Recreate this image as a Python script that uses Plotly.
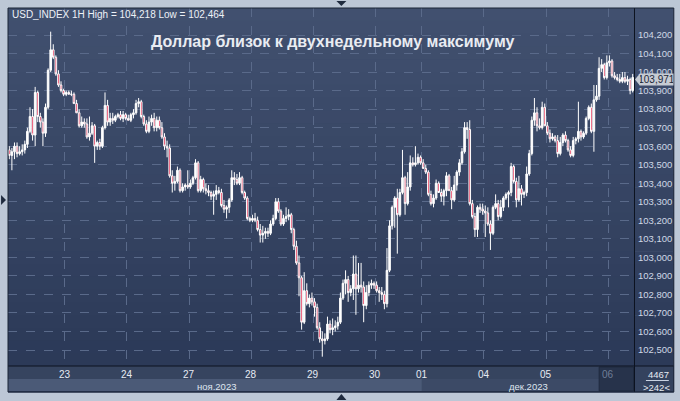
import plotly.graph_objects as go

# Hourly USD index candles, 22 Nov - 6 Dec 2023 (242 bars)
OPEN = [
    103.58, 103.55, 103.57, 103.60, 103.56, 103.57, 103.58, 103.61, 103.68, 103.76,
    103.66, 103.89, 103.76, 103.73, 103.67, 103.81, 104.01, 104.12, 104.08, 103.99,
    103.93, 103.90, 103.88, 103.89, 103.88, 103.88, 103.83, 103.78, 103.71, 103.73,
    103.72, 103.65, 103.67, 103.71, 103.60, 103.62, 103.60, 103.70, 103.82, 103.73,
    103.75, 103.74, 103.76, 103.77, 103.75, 103.77, 103.75, 103.74, 103.77, 103.78,
    103.83, 103.84, 103.76, 103.72, 103.68, 103.73, 103.75, 103.70, 103.74, 103.70,
    103.65, 103.60, 103.59, 103.44, 103.40, 103.41, 103.47, 103.36, 103.38, 103.39,
    103.38, 103.40, 103.43, 103.51, 103.36, 103.42, 103.37, 103.36, 103.35, 103.33,
    103.34, 103.36, 103.35, 103.28, 103.26, 103.27, 103.31, 103.43, 103.42, 103.40,
    103.43, 103.35, 103.32, 103.21, 103.20, 103.21, 103.20, 103.15, 103.12, 103.13,
    103.14, 103.13, 103.18, 103.21, 103.30, 103.25, 103.18, 103.21, 103.22, 103.23,
    103.15, 103.06, 102.97, 102.89, 102.65, 102.82, 102.75, 102.78, 102.76, 102.73,
    102.62, 102.56, 102.55, 102.56, 102.64, 102.61, 102.62, 102.63, 102.65, 102.78,
    102.86, 102.88, 102.81, 102.83, 102.91, 102.83, 102.85, 102.84, 102.74, 102.81,
    102.85, 102.86, 102.85, 102.82, 102.81, 102.80, 102.75, 102.93, 103.17, 103.27,
    103.32, 103.23, 103.35, 103.43, 103.29, 103.38, 103.51, 103.50, 103.51, 103.54,
    103.51, 103.48, 103.46, 103.34, 103.29, 103.32, 103.40, 103.35, 103.33, 103.36,
    103.44, 103.36, 103.31, 103.39, 103.46, 103.51, 103.57, 103.70, 103.69, 103.29,
    103.22, 103.15, 103.27, 103.26, 103.25, 103.24, 103.18, 103.13, 103.27, 103.29,
    103.22, 103.27, 103.32, 103.34, 103.35, 103.49, 103.41, 103.31, 103.37, 103.34,
    103.35, 103.45, 103.56, 103.74, 103.78, 103.71, 103.70, 103.81, 103.71, 103.67,
    103.64, 103.65, 103.63, 103.56, 103.62, 103.66, 103.63, 103.58, 103.55, 103.63,
    103.64, 103.68, 103.65, 103.67, 103.75, 103.81, 103.68, 103.85, 103.87, 104.02,
    104.04, 103.97, 104.05, 104.06, 103.98, 103.97, 103.96, 103.95, 103.97, 103.95,
    103.96, 103.90,
]
HIGH = [
    103.60, 103.59, 103.62, 103.62, 103.60, 103.61, 103.63, 103.70, 103.81, 103.80,
    103.92, 103.90, 103.78, 103.75, 103.83, 104.02, 104.218, 104.15, 104.09, 104.01,
    103.95, 103.91, 103.90, 103.90, 103.90, 103.89, 103.85, 103.80, 103.76, 103.75,
    103.75, 103.76, 103.73, 103.72, 103.63, 103.64, 103.71, 103.89, 103.85, 103.78,
    103.78, 103.77, 103.78, 103.79, 103.79, 103.78, 103.77, 103.78, 103.80, 103.85,
    103.86, 103.85, 103.77, 103.74, 103.76, 103.77, 103.78, 103.76, 103.76, 103.73,
    103.67, 103.63, 103.61, 103.47, 103.44, 103.49, 103.48, 103.40, 103.40, 103.47,
    103.42, 103.44, 103.53, 103.52, 103.44, 103.43, 103.40, 103.39, 103.36, 103.36,
    103.39, 103.38, 103.37, 103.31, 103.28, 103.32, 103.47, 103.46, 103.45, 103.46,
    103.44, 103.36, 103.33, 103.22, 103.23, 103.24, 103.22, 103.18, 103.17, 103.16,
    103.16, 103.20, 103.23, 103.32, 103.32, 103.26, 103.23, 103.27, 103.26, 103.24,
    103.16, 103.09, 103.01, 102.90, 102.92, 102.86, 102.80, 102.81, 102.78, 102.75,
    102.65, 102.60, 102.59, 102.68, 102.66, 102.67, 102.66, 102.68, 102.81, 102.88,
    102.93, 102.90, 102.85, 103.01, 103.01, 102.97, 102.97, 102.87, 102.85, 102.87,
    102.88, 102.87, 102.87, 102.84, 102.84, 102.82, 103.05, 103.20, 103.28, 103.33,
    103.37, 103.37, 103.58, 103.44, 103.46, 103.55, 103.54, 103.60, 103.56, 103.55,
    103.53, 103.50, 103.47, 103.36, 103.34, 103.42, 103.41, 103.37, 103.37, 103.46,
    103.45, 103.38, 103.44, 103.47, 103.53, 103.59, 103.73, 103.73, 103.74, 103.31,
    103.24, 103.28, 103.29, 103.29, 103.28, 103.27, 103.20, 103.28, 103.34, 103.31,
    103.31, 103.33, 103.35, 103.36, 103.51, 103.50, 103.43, 103.44, 103.39, 103.36,
    103.49, 103.58, 103.76, 103.86, 103.81, 103.75, 103.84, 103.83, 103.73, 103.69,
    103.67, 103.66, 103.66, 103.65, 103.67, 103.68, 103.64, 103.60, 103.65, 103.65,
    103.84, 103.69, 103.68, 103.76, 103.82, 103.83, 103.93, 103.93, 104.08, 104.07,
    104.05, 104.09, 104.09, 104.07, 104.00, 103.99, 103.99, 104.00, 104.00, 103.98,
    103.97, 103.99,
]
LOW = [
    103.53, 103.47, 103.53, 103.54, 103.55, 103.55, 103.56, 103.59, 103.67, 103.63,
    103.60, 103.73, 103.70, 103.60, 103.65, 103.80, 104.00, 104.07, 103.98, 103.92,
    103.89, 103.87, 103.87, 103.88, 103.87, 103.83, 103.78, 103.70, 103.70, 103.70,
    103.64, 103.63, 103.66, 103.51, 103.58, 103.58, 103.59, 103.69, 103.71, 103.71,
    103.72, 103.73, 103.75, 103.74, 103.73, 103.74, 103.74, 103.73, 103.75, 103.77,
    103.81, 103.75, 103.71, 103.67, 103.67, 103.71, 103.68, 103.68, 103.69, 103.64,
    103.58, 103.54, 103.43, 103.35, 103.36, 103.40, 103.35, 103.35, 103.36, 103.37,
    103.37, 103.39, 103.42, 103.35, 103.35, 103.35, 103.34, 103.33, 103.31, 103.23,
    103.31, 103.34, 103.27, 103.24, 103.21, 103.24, 103.30, 103.39, 103.39, 103.39,
    103.34, 103.31, 103.20, 103.19, 103.19, 103.19, 103.14, 103.08, 103.08, 103.10,
    103.11, 103.12, 103.17, 103.20, 103.24, 103.17, 103.17, 103.19, 103.20, 103.13,
    103.04, 102.96, 102.79, 102.61, 102.64, 102.74, 102.73, 102.74, 102.68, 102.61,
    102.54, 102.464, 102.53, 102.55, 102.59, 102.58, 102.60, 102.61, 102.64, 102.77,
    102.80, 102.76, 102.79, 102.77, 102.69, 102.81, 102.81, 102.65, 102.72, 102.79,
    102.83, 102.83, 102.81, 102.76, 102.77, 102.72, 102.73, 102.92, 103.15, 103.16,
    103.02, 103.22, 103.34, 103.23, 103.28, 103.36, 103.49, 103.49, 103.50, 103.50,
    103.48, 103.45, 103.33, 103.28, 103.27, 103.31, 103.35, 103.30, 103.28, 103.33,
    103.36, 103.26, 103.30, 103.36, 103.44, 103.50, 103.56, 103.64, 103.28, 103.21,
    103.11, 103.11, 103.24, 103.23, 103.11, 103.17, 103.04, 103.12, 103.26, 103.20,
    103.21, 103.25, 103.31, 103.27, 103.33, 103.40, 103.27, 103.30, 103.28, 103.32,
    103.33, 103.44, 103.55, 103.71, 103.68, 103.69, 103.69, 103.71, 103.66, 103.62,
    103.63, 103.62, 103.54, 103.55, 103.60, 103.62, 103.57, 103.54, 103.54, 103.61,
    103.62, 103.63, 103.64, 103.66, 103.74, 103.67, 103.57, 103.84, 103.85, 104.00,
    103.96, 103.96, 104.03, 103.97, 103.96, 103.95, 103.94, 103.94, 103.94, 103.93,
    103.88, 103.89,
]
CLOSE = [
    103.55, 103.57, 103.60, 103.56, 103.57, 103.58, 103.61, 103.68, 103.76, 103.66,
    103.89, 103.76, 103.73, 103.67, 103.81, 104.01, 104.12, 104.08, 103.99, 103.93,
    103.90, 103.88, 103.89, 103.88, 103.88, 103.83, 103.78, 103.71, 103.73, 103.72,
    103.65, 103.67, 103.71, 103.60, 103.62, 103.60, 103.70, 103.82, 103.73, 103.75,
    103.74, 103.76, 103.77, 103.75, 103.77, 103.75, 103.74, 103.77, 103.78, 103.83,
    103.84, 103.76, 103.72, 103.68, 103.73, 103.75, 103.70, 103.74, 103.70, 103.65,
    103.60, 103.59, 103.44, 103.40, 103.41, 103.47, 103.36, 103.38, 103.39, 103.38,
    103.40, 103.43, 103.51, 103.36, 103.42, 103.37, 103.36, 103.35, 103.33, 103.34,
    103.36, 103.35, 103.28, 103.26, 103.27, 103.31, 103.43, 103.42, 103.40, 103.43,
    103.35, 103.32, 103.21, 103.20, 103.21, 103.20, 103.15, 103.12, 103.13, 103.14,
    103.13, 103.18, 103.21, 103.30, 103.25, 103.18, 103.21, 103.22, 103.23, 103.15,
    103.06, 102.97, 102.89, 102.65, 102.82, 102.75, 102.78, 102.76, 102.73, 102.62,
    102.56, 102.55, 102.56, 102.64, 102.61, 102.62, 102.63, 102.65, 102.78, 102.86,
    102.88, 102.81, 102.83, 102.91, 102.83, 102.85, 102.84, 102.74, 102.81, 102.85,
    102.86, 102.85, 102.82, 102.81, 102.80, 102.75, 102.93, 103.17, 103.27, 103.32,
    103.23, 103.35, 103.43, 103.29, 103.38, 103.51, 103.50, 103.51, 103.54, 103.51,
    103.48, 103.46, 103.34, 103.29, 103.32, 103.40, 103.35, 103.33, 103.36, 103.44,
    103.36, 103.31, 103.39, 103.46, 103.51, 103.57, 103.70, 103.69, 103.29, 103.22,
    103.15, 103.27, 103.26, 103.25, 103.24, 103.18, 103.13, 103.27, 103.29, 103.22,
    103.27, 103.32, 103.34, 103.35, 103.49, 103.41, 103.31, 103.37, 103.34, 103.35,
    103.45, 103.56, 103.74, 103.78, 103.71, 103.70, 103.81, 103.71, 103.67, 103.64,
    103.65, 103.63, 103.56, 103.62, 103.66, 103.63, 103.58, 103.55, 103.63, 103.64,
    103.68, 103.65, 103.67, 103.75, 103.81, 103.68, 103.85, 103.87, 104.02, 104.04,
    103.97, 104.05, 104.06, 103.98, 103.97, 103.96, 103.95, 103.97, 103.95, 103.96,
    103.90, 103.971,
]

# day separators (bar index where each day starts) and their labels
DAY_START = [22, 46, 70, 94, 118, 142, 160, 184, 208, 232]
DAY_LABELS = ["23", "24", "27", "28", "29", "30", "01", "04", "05", "06"]
MONTH_LABELS = ["ноя.2023", "дек.2023"]

PRICE_TICKS = [102.5, 102.6, 102.7, 102.8, 102.9, 103.0, 103.1, 103.2, 103.3,
               103.4, 103.5, 103.6, 103.7, 103.8, 103.9, 104.0, 104.1, 104.2]
PRICE_LABELS = ["102,500", "102,600", "102,700", "102,800", "102,900", "103,000",
                "103,100", "103,200", "103,300", "103,400", "103,500", "103,600",
                "103,700", "103,800", "103,900", "104,000", "104,100", "104,200"]

LAST_PRICE = 103.971
LAST_LABEL = "103,971"
BARS_TOTAL = "4467"
BARS_SHOWN = "&gt;242&lt;"
TITLE = "Доллар близок к двухнедельному максимуму"
HEADER = "USD_INDEX 1H High = 104,218 Low = 102,464"

W, H = 680, 401
ML, MR, MT, MB = 8, 43, 8, 35
PW, PH = W - ML - MR, H - MT - MB
FONT = "Liberation Sans"


def px(x):
    return (x - ML) / PW


def py(y):
    return (H - MB - y) / PH


def rect(x0, y0, x1, y1, color, line=None):
    return dict(type="rect", xref="paper", yref="paper", layer="below",
                x0=px(x0), x1=px(x1), y0=py(y1), y1=py(y0),
                fillcolor=color, line=dict(width=0) if line is None else line)


def tri(points, color):
    path = "M " + " L ".join(f"{px(a)},{py(b)}" for a, b in points) + " Z"
    return dict(type="path", xref="paper", yref="paper", path=path,
                fillcolor=color, line=dict(width=0), layer="above")


def label(x, y, text, size=9.5, color="#e6ebf3", **kw):
    return dict(x=px(x), y=py(y), xref="paper", yref="paper", text=text,
                showarrow=False, xanchor="center", yanchor="middle",
                font=dict(family=FONT, size=size, color=color), **kw)


fig = go.Figure(go.Candlestick(
    x=list(range(len(CLOSE))),
    open=OPEN, high=HIGH, low=LOW, close=CLOSE,
    increasing=dict(line=dict(color="#ffffff", width=1), fillcolor="#ffffff"),
    decreasing=dict(line=dict(color="#ffffff", width=1), fillcolor="#e3153e"),
    whiskerwidth=0,
    showlegend=False,
    hoverinfo="skip",
))

shapes = []
# dark vertical gradient behind plot and price scale
top, bot = (0x41, 0x50, 0x6f), (0x2a, 0x38, 0x56)
n = 30
y_a, y_b = 8, 392
for k in range(n):
    t = k / (n - 1)
    c = tuple(round(top[j] + (bot[j] - top[j]) * t) for j in range(3))
    y0 = y_a + (y_b - y_a) * k / n
    y1 = y_a + (y_b - y_a) * (k + 1) / n + 0.5
    shapes.append(rect(8, y0, 677, y1, "rgb(%d,%d,%d)" % c))

# time axis band
shapes.append(rect(8, 366, 637, 391, "#36445f"))
shapes.append(dict(type="rect", xref="x", yref="paper", layer="below",
                   x0=-0.5, x1=DAY_START[6] - 0.5, y0=py(391), y1=py(379),
                   fillcolor="#4b5a77", line=dict(width=0)))
shapes.append(dict(type="rect", xref="x", yref="paper", layer="below",
                   x0=DAY_START[6] - 0.5, x1=len(CLOSE) - 0.5, y0=py(391), y1=py(379),
                   fillcolor="#3c4a66", line=dict(width=0)))
shapes.append(rect(602, 367, 636.5, 391, "#27334b", line=dict(color="#1f2a3f", width=1)))
shapes.append(rect(638, 366, 677, 391, "#34425e"))

# separators
shapes.append(dict(type="line", xref="paper", yref="paper", x0=px(637.5), x1=px(637.5),
                   y0=py(392), y1=py(8), line=dict(color="#0d1320", width=1)))
shapes.append(dict(type="line", xref="paper", yref="paper", x0=px(8), x1=px(677),
                   y0=py(366), y1=py(366), line=dict(color="#0d1320", width=1)))
shapes.append(dict(type="rect", xref="paper", yref="paper", x0=px(8), x1=px(677),
                   y0=py(392), y1=py(8), line=dict(color="#1b2436", width=1)))
shapes.append(dict(type="line", xref="paper", yref="paper", x0=px(649), x1=px(672),
                   y0=py(380.5), y1=py(380.5), line=dict(color="#c9d2e2", width=1)))

# price tag pointer
shapes.append(tri([(638, 79.5), (642.5, 74), (645, 74), (645, 85), (642.5, 85)], "#c6cbd3"))

# frame arrows
shapes.append(tri([(338, 1), (348, 1), (343, 6)], "#1e2a3e"))
shapes.append(tri([(338, 400), (348, 400), (343, 394)], "#1e2a3e"))
shapes.append(tri([(1, 195), (1, 205), (6, 200)], "#1e2a3e"))

annotations = []
for d, lab in zip(DAY_START, DAY_LABELS):
    annotations.append(dict(x=d - 0.5, y=py(374.5), xref="x", yref="paper", text=lab,
                            showarrow=False, xanchor="center", yanchor="middle",
                            font=dict(family=FONT, size=10,
                                      color="#6f7d97" if lab == "06" else "#e6ebf3")))
annotations.append(label(218, 386.5, MONTH_LABELS[0], color="#dfe5ef"))
annotations.append(label(531, 386.5, MONTH_LABELS[1], color="#dfe5ef"))
annotations.append(label(662, 374, BARS_TOTAL))
annotations.append(label(660, 387, BARS_SHOWN))
annotations.append(label(659.5, 79.5, LAST_LABEL, size=10, color="#1c2638",
                         bgcolor="#c6cbd3", width=33, height=11, borderpad=0))
annotations.append(dict(x=px(10), y=py(15), xref="paper", yref="paper", text=HEADER,
                        showarrow=False, xanchor="left", yanchor="middle",
                        font=dict(family=FONT, size=10, color="#eef1f7")))
annotations.append(label(335, 42, "<b>" + TITLE + "</b>", size=16, color="#e9ecf2"))

fig.update_layout(
    width=W, height=H,
    margin=dict(l=ML, r=MR, t=MT, b=MB, pad=0),
    paper_bgcolor="#bcc7d6",
    plot_bgcolor="#36445f",
    shapes=shapes,
    annotations=annotations,
    showlegend=False,
    hovermode=False,
    boxgap=0.12,
)
fig.update_xaxes(
    range=[-0.5, len(CLOSE) - 0.5],
    tickvals=[d - 0.5 for d in DAY_START],
    showticklabels=False, ticks="",
    showgrid=True, gridcolor="#5a6a8a", griddash="dash", gridwidth=1,
    zeroline=False, showline=False,
    rangeslider=dict(visible=False),
    fixedrange=True,
)
fig.update_yaxes(
    side="right",
    range=[102.4137, 104.3457],
    tickvals=PRICE_TICKS, ticktext=PRICE_LABELS,
    tickfont=dict(family=FONT, size=9.5, color="#d0d8e6"),
    ticks="", ticklabelstandoff=3,
    showgrid=True, gridcolor="#5a6a8a", griddash="dash", gridwidth=1,
    zeroline=False, showline=False,
    fixedrange=True,
)

fig.write_html(
    "out.html",
    config={"displayModeBar": False},
    post_script="document.body.style.margin='0';document.body.style.padding='0';",
)
